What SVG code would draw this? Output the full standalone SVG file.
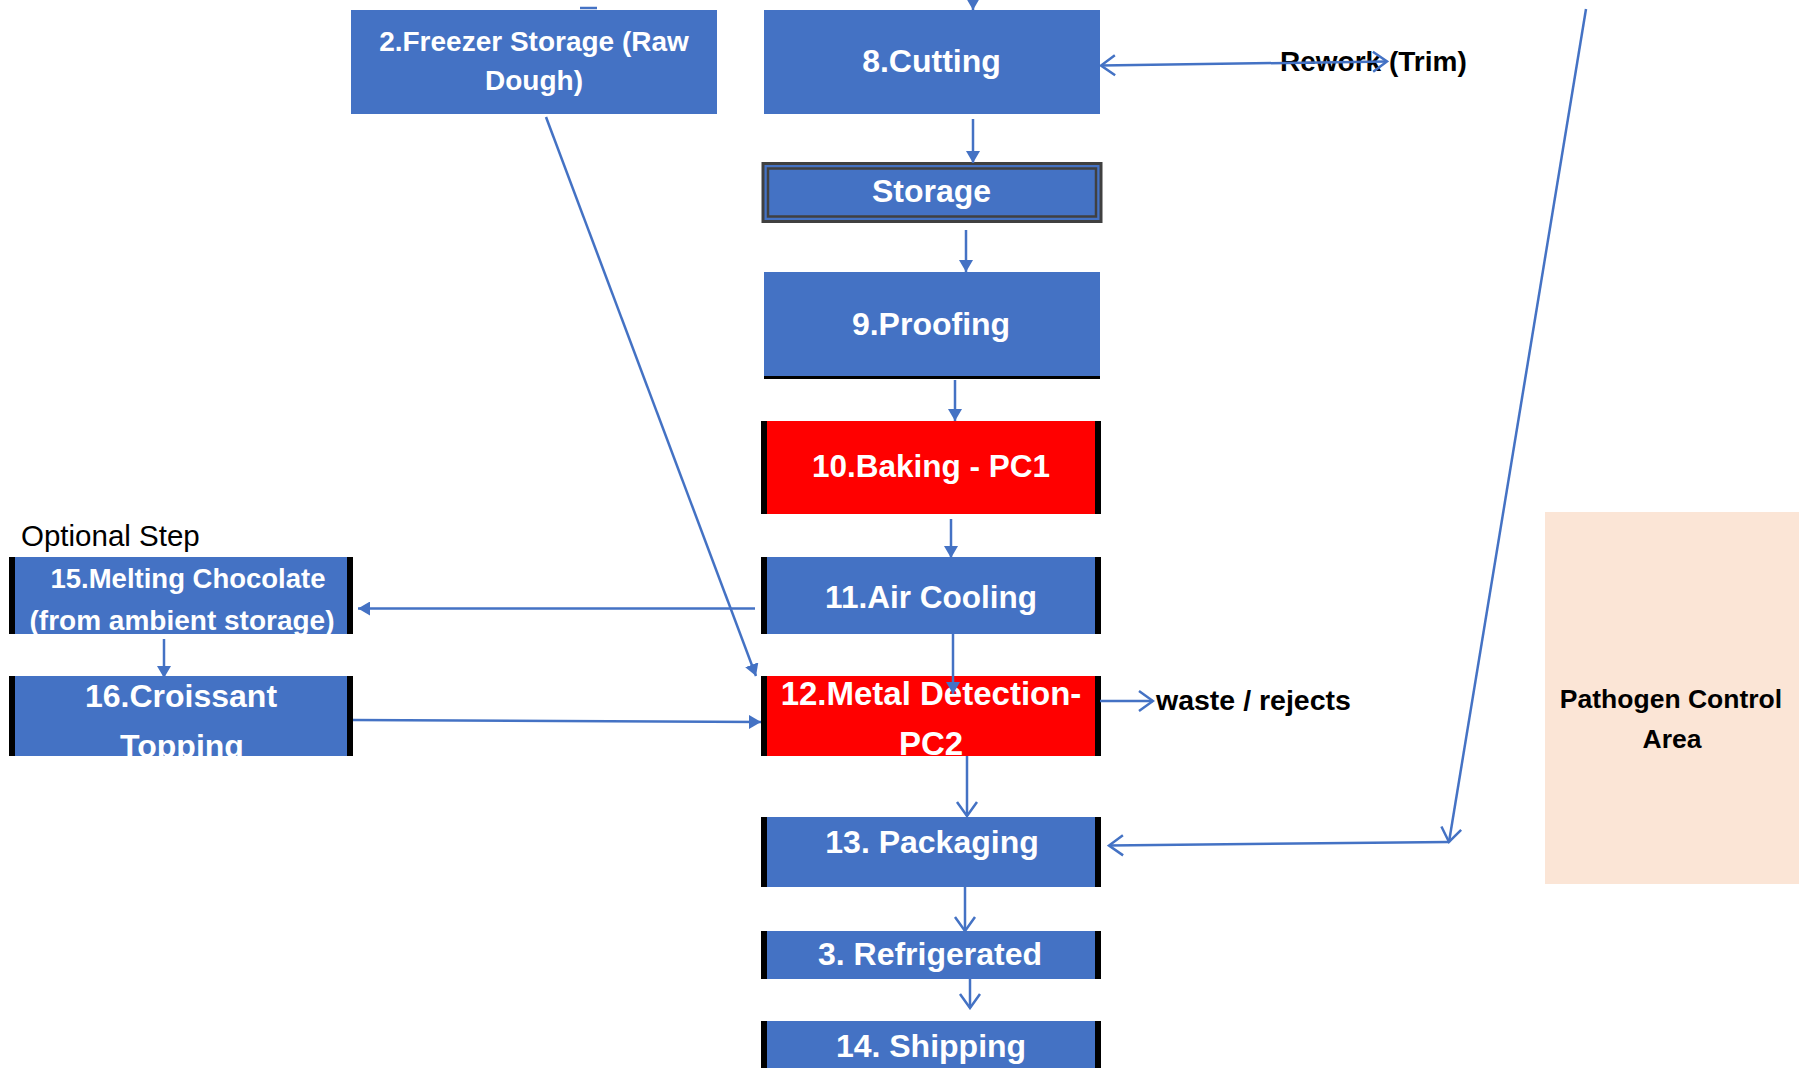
<svg xmlns="http://www.w3.org/2000/svg" width="1801" height="1068" viewBox="0 0 1801 1068">
  <style>
    .blue { fill: #4472C4; }
    .red { fill: #FF0000; }
    .side { fill: #000000; }
    .zone { fill: #FBE5D6; }
    .lbl { font-family: "Liberation Sans", Arial, sans-serif; font-weight: bold; fill: #FFFFFF; text-anchor: middle; }
    .note { font-family: "Liberation Sans", Arial, sans-serif; font-weight: bold; fill: #000000; }
    .plain { font-family: "Liberation Sans", Arial, sans-serif; fill: #000000; }
    .conn { stroke: #4472C4; stroke-width: 2.5; fill: none; }
    .solid { marker-end: url(#tri); }
    .open { marker-end: url(#vee); }
  </style>
  <defs>
    <marker id="tri" markerUnits="userSpaceOnUse" viewBox="0 0 12 14" markerWidth="12" markerHeight="14" refX="12" refY="7" orient="auto">
      <path d="M0,0 L12,7 L0,14 z" fill="#4472C4"/>
    </marker>
    <marker id="vee" markerUnits="userSpaceOnUse" viewBox="-2 -2 18 24" markerWidth="18" markerHeight="24" refX="14" refY="10" orient="auto-start-reverse">
      <path d="M0,0 L14,10 L0,20" fill="none" stroke="#4472C4" stroke-width="2.5"/>
    </marker>
    <clipPath id="clip12"><rect x="761" y="676" width="340" height="80"/></clipPath>
    <clipPath id="clip15"><rect x="9" y="557" width="344" height="77"/></clipPath>
    <clipPath id="clip16"><rect x="9" y="676" width="344" height="80"/></clipPath>
  </defs>

  <rect width="1801" height="1068" fill="#FFFFFF"/>

  <!-- process steps -->
  <g id="step-2-freezer-storage">
    <rect class="blue" x="351" y="10" width="366" height="104"/>
    <text class="lbl" x="534" y="51" font-size="28">2.Freezer Storage (Raw</text>
    <text class="lbl" x="534" y="90" font-size="28">Dough)</text>
  </g>

  <g id="step-8-cutting">
    <rect class="blue" x="764" y="10" width="336" height="104"/>
    <text class="lbl" x="931.5" y="72" font-size="32">8.Cutting</text>
  </g>

  <g id="step-storage">
    <rect x="763" y="163.5" width="338" height="58" fill="#4472C4" stroke="#404040" stroke-width="3"/>
    <rect x="768" y="168.5" width="328" height="48" fill="none" stroke="#404040" stroke-width="2.5"/>
    <text class="lbl" x="931.5" y="202" font-size="32">Storage</text>
  </g>

  <g id="step-9-proofing">
    <rect class="blue" x="764" y="272" width="336" height="107"/>
    <rect class="side" x="764" y="376" width="336" height="3"/>
    <text class="lbl" x="931" y="335" font-size="32">9.Proofing</text>
  </g>

  <g id="step-10-baking">
    <rect class="red" x="761" y="421" width="340" height="93"/>
    <rect class="side" x="761" y="421" width="6" height="93"/>
    <rect class="side" x="1095" y="421" width="6" height="93"/>
    <text class="lbl" x="931" y="477" font-size="31.5">10.Baking - PC1</text>
  </g>

  <g id="step-11-air-cooling">
    <rect class="blue" x="761" y="557" width="340" height="77"/>
    <rect class="side" x="761" y="557" width="6" height="77"/>
    <rect class="side" x="1095" y="557" width="6" height="77"/>
    <text class="lbl" x="931" y="608" font-size="31.5">11.Air Cooling</text>
  </g>

  <g id="step-12-metal-detection">
    <rect class="red" x="761" y="676" width="340" height="80"/>
    <rect class="side" x="761" y="676" width="6" height="80"/>
    <rect class="side" x="1095" y="676" width="6" height="80"/>
    <g clip-path="url(#clip12)">
      <text class="lbl" x="931" y="705" font-size="33">12.Metal Detection-</text>
      <text class="lbl" x="931" y="755" font-size="33">PC2</text>
    </g>
  </g>

  <g id="step-13-packaging">
    <rect class="blue" x="761" y="817" width="340" height="70"/>
    <rect class="side" x="761" y="817" width="6" height="70"/>
    <rect class="side" x="1095" y="817" width="6" height="70"/>
    <text class="lbl" x="932" y="853" font-size="32">13. Packaging</text>
  </g>

  <g id="step-3-refrigerated">
    <rect class="blue" x="761" y="931" width="340" height="48"/>
    <rect class="side" x="761" y="931" width="6" height="48"/>
    <rect class="side" x="1095" y="931" width="6" height="48"/>
    <text class="lbl" x="930" y="965" font-size="32">3. Refrigerated</text>
  </g>

  <g id="step-14-shipping">
    <rect class="blue" x="761" y="1021" width="340" height="47"/>
    <rect class="side" x="761" y="1021" width="6" height="47"/>
    <rect class="side" x="1095" y="1021" width="6" height="47"/>
    <text class="lbl" x="931" y="1057" font-size="32">14. Shipping</text>
  </g>

  <g id="optional-label">
    <text class="plain" x="21" y="546" font-size="29.5">Optional Step</text>
  </g>

  <g id="step-15-melting-chocolate">
    <rect class="blue" x="9" y="557" width="344" height="77"/>
    <rect class="side" x="9" y="557" width="6" height="77"/>
    <rect class="side" x="347" y="557" width="6" height="77"/>
    <g clip-path="url(#clip15)">
      <text class="lbl" x="188" y="588" font-size="27.5">15.Melting Chocolate</text>
      <text class="lbl" x="182" y="630" font-size="28">(from ambient storage)</text>
    </g>
  </g>

  <g id="step-16-croissant-topping">
    <rect class="blue" x="9" y="676" width="344" height="80"/>
    <rect class="side" x="9" y="676" width="6" height="80"/>
    <rect class="side" x="347" y="676" width="6" height="80"/>
    <g clip-path="url(#clip16)">
      <text class="lbl" x="181" y="707" font-size="32">16.Croissant</text>
      <text class="lbl" x="182" y="757" font-size="32">Topping</text>
    </g>
  </g>

  <g id="pathogen-control-area">
    <rect class="zone" x="1545" y="512" width="254" height="372"/>
    <text class="note" x="1671" y="708" font-size="26.5" text-anchor="middle">Pathogen Control</text>
    <text class="note" x="1672" y="748" font-size="26.5" text-anchor="middle">Area</text>
  </g>

  <g id="outlet-labels">
    <text class="note" x="1280" y="71" font-size="28">Rework (Trim)</text>
    <text class="note" x="1156" y="710" font-size="28.5">waste / rejects</text>
  </g>

  <!-- flow connectors -->
  <g id="connectors">
    <line class="conn" x1="580" y1="8" x2="597" y2="8" stroke-width="1.5"/>
    <line class="conn solid" x1="973" y1="0" x2="973" y2="10"/>
    <line class="conn solid" x1="973" y1="119" x2="973" y2="163"/>
    <line class="conn solid" x1="966" y1="230" x2="966" y2="272"/>
    <line class="conn solid" x1="955" y1="380" x2="955" y2="421"/>
    <line class="conn solid" x1="951" y1="519" x2="951" y2="558"/>
    <line class="conn solid" x1="953" y1="634" x2="953" y2="694"/>
    <line class="conn open" x1="967" y1="756" x2="967" y2="816"/>
    <line class="conn open" x1="965" y1="887" x2="965" y2="931"/>
    <line class="conn open" x1="970" y1="979" x2="970" y2="1008"/>
    <line class="conn open" x1="1100" y1="701" x2="1153" y2="701"/>
    <line class="conn open" x1="1387" y1="61.5" x2="1101" y2="65.5" marker-start="url(#vee)"/>
    <line class="conn open" x1="1586" y1="9" x2="1449" y2="842"/>
    <line class="conn open" x1="1449" y1="842" x2="1109" y2="845.5"/>
    <line class="conn solid" x1="546" y1="117" x2="756" y2="676"/>
    <line class="conn solid" x1="755" y1="608.5" x2="358" y2="608.5"/>
    <line class="conn solid" x1="164" y1="639" x2="164" y2="678"/>
    <line class="conn solid" x1="353" y1="720" x2="761" y2="722"/>
  </g>
</svg>
